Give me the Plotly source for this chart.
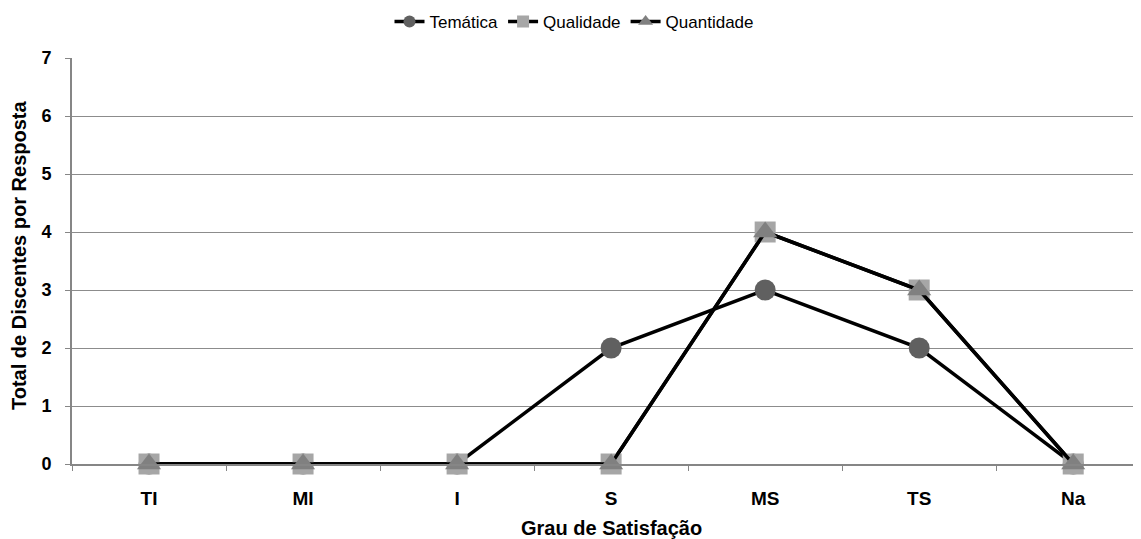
import plotly.graph_objects as go

categories = ["TI", "MI", "I", "S", "MS", "TS", "Na"]
tematica = [0, 0, 0, 2, 3, 2, 0]
qualidade = [0, 0, 0, 0, 4, 3, 0]
quantidade = [0, 0, 0, 0, 4, 3, 0]
y_ticks = [0, 1, 2, 3, 4, 5, 6, 7]
series_names = ["Temática", "Qualidade", "Quantidade"]
x_title = "Grau de Satisfação"
y_title = "Total de Discentes por Resposta"

styles = [
    dict(symbol="circle", color="#606060", size=21, lsize=12),
    dict(symbol="square", color="#a6a6a6", size=21, lsize=12),
    dict(symbol="triangle-up", color="#808080", size=21, lsize=13),
]

# page body has an 8px margin, so the figure is sized/offset accordingly
W, H = 1133, 531
L, T, B = 64, 50, 75
plot_w = W - L
plot_h = H - T - B

fig = go.Figure()
for name, vals, st in zip(series_names, [tematica, qualidade, quantidade], styles):
    fig.add_trace(go.Scatter(x=categories, y=vals, name=name, mode="lines+markers",
                             showlegend=False, cliponaxis=False,
                             line=dict(color="black", width=3.5),
                             marker=dict(symbol=st["symbol"], size=st["size"], color=st["color"])))
for name, st in zip(series_names, styles):
    fig.add_trace(go.Scatter(x=[None], y=[None], name=name, mode="lines+markers",
                             line=dict(color="black", width=3.5),
                             marker=dict(symbol=st["symbol"], size=st["lsize"], color=st["color"])))

fig.update_layout(
    width=W, height=H,
    margin=dict(l=L, r=0, t=T, b=B),
    paper_bgcolor="white", plot_bgcolor="white",
    font=dict(family="Liberation Sans, Arial, sans-serif", color="black"),
    showlegend=True,
    legend=dict(orientation="h", x=(574 - 8) / W, xref="container", xanchor="center",
                y=1 - 14 / H, yref="container", yanchor="middle",
                font=dict(family="Liberation Sans Narrow, Liberation Sans, Arial", size=17),
                itemwidth=30, tracegroupgap=0, itemclick=False),
    xaxis=dict(type="category", range=[-0.5, 6.44], tickson="boundaries", automargin=False,
               ticks="outside", ticklen=5, tickcolor="#868686",
               showline=True, linecolor="#868686", linewidth=2,
               showgrid=False, zeroline=False,
               tickfont=dict(size=19, family="Liberation Sans, Arial", weight="bold"),
               ticklabelstandoff=16),
    yaxis=dict(range=[0, 7], tickvals=y_ticks, ticks="outside", ticklen=5, tickcolor="#868686",
               automargin=False,
               showline=True, linecolor="#868686", linewidth=2,
               showgrid=True, gridcolor="#8c8c8c", gridwidth=1, zeroline=False,
               tickfont=dict(size=18, family="Liberation Sans, Arial", weight="bold"),
               ticklabelstandoff=10),
)
fig.add_annotation(text="<b>" + x_title + "</b>", xref="paper", yref="paper",
                   x=(611 - 72) / plot_w, y=-(520 - 456) / plot_h,
                   showarrow=False, font=dict(size=20), xanchor="center", yanchor="middle")
fig.add_annotation(text="<b>" + y_title + "</b>", xref="paper", yref="paper",
                   x=-(L - 11) / plot_w, y=(456 - 248) / plot_h, textangle=-90,
                   showarrow=False, font=dict(size=20), xanchor="center", yanchor="middle")
fig.write_html("out.html")
